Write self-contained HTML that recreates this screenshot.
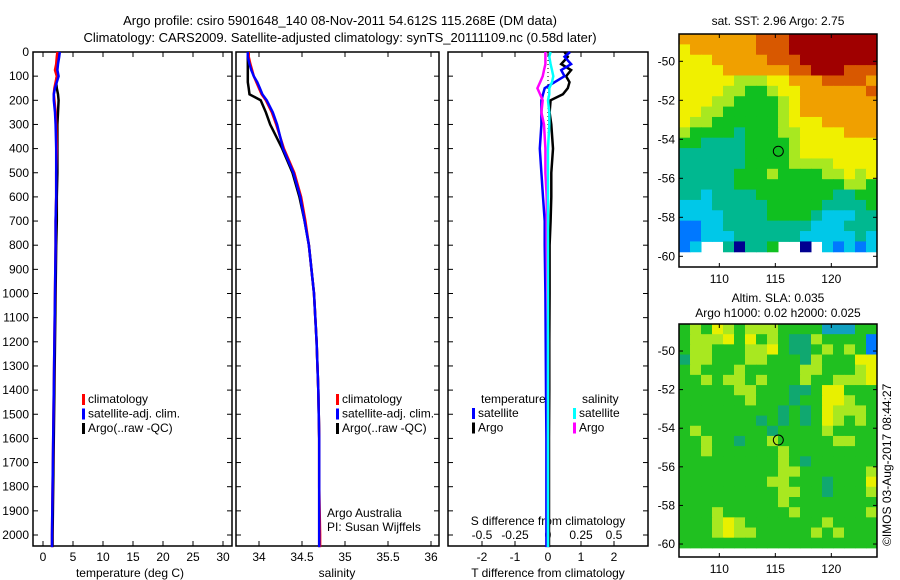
<!DOCTYPE html>
<html><head><meta charset="utf-8"><style>
body{margin:0;background:#fff}
svg{display:block;font-family:"Liberation Sans",sans-serif;font-size:12px}
</style></head><body>
<svg id="c" width="900" height="580" viewBox="0 0 900 580">
<text x="340" y="25" text-anchor="middle" font-size="13">Argo profile: csiro 5901648_140 08-Nov-2011 54.612S 115.268E (DM data)</text>
<text x="340" y="42" text-anchor="middle" font-size="13">Climatology: CARS2009. Satellite-adjusted climatology: synTS_20111109.nc (0.58d later)</text>
<text x="130" y="577" text-anchor="middle">temperature (deg C)</text>
<text x="337" y="577" text-anchor="middle">salinity</text>
<text x="548" y="577" text-anchor="middle">T difference from climatology</text>
<text x="548" y="525" text-anchor="middle">S difference from climatology</text>
<text x="327" y="517">Argo Australia</text>
<text x="327" y="531">PI: Susan Wijffels</text>
<text x="778" y="25" text-anchor="middle">sat. SST: 2.96 Argo: 2.75</text>
<text x="778" y="302" text-anchor="middle">Altim. SLA: 0.035</text>
<text x="778" y="317" text-anchor="middle">Argo h1000: 0.02 h2000: 0.025</text>
<text transform="translate(891,546) rotate(-90)">©IMOS 03-Aug-2017 08:44:27</text>
</svg>
<script>
const depths=[0,20,50,75,100,125,150,175,200,250,300,400,500,600,700,800,1000,1200,1400,1600,1800,2000,2050];
const tempClim=[2.4,2.3,2.2,2.0,2.3,2.1,1.9,1.8,1.9,2.1,2.2,2.3,2.2,2.2,2.1,2.1,2.0,1.9,1.8,1.7,1.6,1.5,1.5];
const tempSat=[2.8,2.7,2.5,2.4,2.6,2.3,2.0,1.8,1.8,2.0,2.1,2.2,2.2,2.2,2.1,2.1,2.0,1.9,1.8,1.7,1.6,1.5,1.5];
const tempArgo=[2.6,2.5,2.4,2.2,2.3,2.2,2.3,2.5,2.6,2.5,2.4,2.4,2.4,2.3,2.3,2.2,2.1,2.0,1.9,1.8,1.7,1.6,1.6];
const salClim=[33.88,33.88,33.9,33.92,33.94,33.97,34.0,34.03,34.08,34.15,34.2,34.29,34.41,34.49,34.54,34.58,34.64,34.67,34.69,34.7,34.7,34.71,34.71];
const salSat=[33.87,33.87,33.89,33.91,33.94,33.98,34.01,34.04,34.09,34.16,34.21,34.28,34.4,34.48,34.53,34.58,34.64,34.67,34.69,34.7,34.7,34.7,34.7];
const salArgo=[33.88,33.87,33.87,33.87,33.87,33.87,33.88,33.89,34.02,34.08,34.13,34.27,34.39,34.47,34.53,34.58,34.64,34.67,34.69,34.7,34.7,34.7,34.7];
const tdSat=[0.67,0.5,0.7,0.4,0.5,0.2,-0.1,-0.15,-0.2,-0.2,-0.2,-0.25,-0.2,-0.15,-0.1,-0.1,-0.08,-0.07,-0.06,-0.05,-0.05,-0.05,-0.05];
const tdArgo=[0.5,0.6,0.4,0.7,0.55,0.65,0.6,0.45,0.08,0.05,0.1,0.15,0.1,0.1,0.08,0.05,0.05,0.04,0.04,0.03,0.03,0.03,0.03];
const sdSat=[0.02,0.01,0.02,0.03,0.04,0.03,0.01,0.01,0.0,0.01,0.01,0.0,0.0,0.0,0.0,0.0,0.0,0.0,0.0,0.0,0.0,0.0,0.0];
const sdArgo=[-0.02,-0.02,-0.02,-0.03,-0.04,-0.06,-0.08,-0.06,-0.04,-0.05,-0.03,-0.02,-0.02,-0.01,-0.01,-0.01,-0.005,0,0,0,0,0,0];
const depthTicks=[0,100,200,300,400,500,600,700,800,900,1000,1100,1200,1300,1400,1500,1600,1700,1800,1900,2000];
const tempTicks=[0,5,10,15,20,25,30];
const salTicks=[34,34.5,35,35.5,36];
const tdTicks=[-2,-1,0,1,2];
const sdTicks=[-0.5,-0.25,0,0.25,0.5];
const sdTickLabels=["-0.5","-0.25","0","0.25","0.5"];
const lonTicks=[110,115,120];
const latTicks=[-50,-52,-54,-56,-58,-60];
const argoLon=115.268, argoLat=-54.612;
const sstGrid=[
"777777788899999999","677777788899999999","666777778889999999","666677777788999888",
"666665556677788887","666655445667777778","666554444567777777","665544444567777777",
"655444444566677777","544443444556666777","443333444456666666","333333444456666666",
"333333444455556666","333334445444455656","333334444444444554","332333344444443344",
"222333334444433334","222233334444322233","112233333333222333","112223333332222232",
"12..30334..0.21212",".................."];
const slaGrid=[
"454654555444422244","455564645433544441","455444556433454541","355444554443544466",
"454445444445544456","445455454445445556","444445544433466444","444444544434466544",
"444444444343465554","444444434343465454","454444443444454444","445443445444445544",
"445444444544444444","444444444543444444","444444444554444445","444444445544434446",
"444444444554434445","444444444544444444","444544444454444445","444565444444454444",
"444565544444545444","444444444444444444"];
const sstCols=["#000090","#0078ff","#00c8e8","#00b890","#10c020","#a8e820","#f0f000","#f0a000","#d85800","#a00000"];
const slaCols=["#000090","#0078ff","#10a0c0","#10a870","#20c020","#a8e820","#e8f000","#f0a000","#d85800","#a00000"];

const NS="http://www.w3.org/2000/svg", svg=document.getElementById('c');
function el(t,a,p){const e=document.createElementNS(NS,t);for(const k in a)e.setAttribute(k,a[k]);(p||svg).appendChild(e);return e;}
function txt(x,y,s,anchor,p){const e=el('text',{x:x,y:y,'text-anchor':anchor||'middle'},p);e.textContent=s;return e;}
const yD=d=>52+d*0.2415;
const Y0=52,Y1=546;
function frame(x0,x1,name){const g=el('g',{});


el('rect',{x:x0,y:Y0,width:x1-x0,height:Y1-Y0,fill:'none',stroke:'#000','stroke-width':1.5},g);return g;}
function yTicks(g,x0,x1,labels){depthTicks.forEach(d=>{const y=yD(d);el('line',{x1:x0,x2:x0+5,y1:y,y2:y,stroke:'#000'},g);el('line',{x1:x1,x2:x1-5,y1:y,y2:y,stroke:'#000'},g);if(labels){const t=txt(x0-4,y+4,String(d),'end',g);}});}
function xTicks(g,ticks,sx,labels,ly){ticks.forEach((v,i)=>{const x=sx(v);el('line',{x1:x,x2:x,y1:Y1,y2:Y1-5,stroke:'#000'},g);el('line',{x1:x,x2:x,y1:Y0,y2:Y0+5,stroke:'#000'},g);if(labels){const t=txt(x,ly,labels[i],'middle',g);}});}
function line(g,xs,sx,color,w,name){const pts=xs.map((v,i)=>sx(v).toFixed(1)+','+yD(depths[i]).toFixed(1)).join(' ');const p=el('polyline',{points:pts,fill:'none',stroke:color,'stroke-width':w},g);

}
function legend(g,x,y,items){items.forEach((it,i)=>{el('rect',{x:x,y:y+i*14.5-9,width:3,height:11,fill:it[0]},g);const t=txt(x+6,y+i*14.5,it[1],'start',g);});}
// panel 1
const sxT=v=>43+v*6;
let g1=frame(33,232,'temperature-panel');yTicks(g1,33,232,true);xTicks(g1,tempTicks,sxT,tempTicks.map(String),561);
line(g1,tempArgo,sxT,'#000',2.5,'temp-argo-line');line(g1,tempClim,sxT,'#f00',2.5,'temp-clim-line');line(g1,tempSat,sxT,'#00f',2.5,'temp-sat-line');
legend(g1,82,403,[['#f00','climatology'],['#00f','satellite-adj. clim.'],['#000','Argo(..raw -QC)']]);
// panel 2
const sxS=v=>259+(v-34)*86;
let g2=frame(236,439,'salinity-panel');yTicks(g2,236,439,false);xTicks(g2,salTicks,sxS,salTicks.map(String),561);
line(g2,salArgo,sxS,'#000',2.5,'sal-argo-line');line(g2,salClim,sxS,'#f00',2.5,'sal-clim-line');line(g2,salSat,sxS,'#00f',2.5,'sal-sat-line');
legend(g2,336,403,[['#f00','climatology'],['#00f','satellite-adj. clim.'],['#000','Argo(..raw -QC)']]);
// panel 3
const sxTD=v=>548+v*33, sxSD=v=>548+v*132;
let g3=frame(448,648,'difference-panel');yTicks(g3,448,648,false);xTicks(g3,tdTicks,sxTD,tdTicks.map(String),561);
sdTicks.forEach((v,i)=>{const t=txt(sxSD(v),539,sdTickLabels[i],'middle',g3);});
el('line',{x1:548,x2:548,y1:Y0,y2:Y1,stroke:'#000','stroke-dasharray':'1,3'},g3);
line(g3,tdArgo,sxTD,'#000',2.5,'tdiff-argo-line');line(g3,tdSat,sxTD,'#00f',2.5,'tdiff-sat-line');
line(g3,sdArgo,sxSD,'#f0f',2.5,'sdiff-argo-line');line(g3,sdSat,sxSD,'#0ff',2.5,'sdiff-sat-line');
txt(481,403,'temperature','start',g3);txt(582,403,'salinity','start',g3);
legend(g3,472,417,[['#00f','satellite'],['#000','Argo']]);
legend(g3,573,417,[['#0ff','satellite'],['#f0f','Argo']]);
// maps
function map(grid,cols,x0,x1,y0,y1,latTop,latBot,lonL,pxLon,pxLat,name){
const g=el('g',{});


const nr=grid.length,nc=grid[0].length,cw=(x1-x0)/nc,dataBot=y0+(latTop-latBot)*pxLat,ch=(dataBot-y0)/nr;
grid.forEach((row,r)=>{for(let c=0;c<nc;c++){const ch2=row[c];if(ch2==='.')continue;
const rc=el('rect',{x:(x0+c*cw).toFixed(2),y:(y0+r*ch).toFixed(2),width:(cw+0.5).toFixed(2),height:(ch+0.5).toFixed(2),fill:cols[+ch2]},g);

}});
el('rect',{x:x0,y:y0,width:x1-x0,height:y1-y0,fill:'none',stroke:'#000','stroke-width':1.5},g);
const sx=v=>x0+(v-lonL)*pxLon, sy=v=>y0+(latTop-v)*pxLat;
lonTicks.forEach(v=>{const x=sx(v);el('line',{x1:x,x2:x,y1:y1,y2:y1-4,stroke:'#000'},g);el('line',{x1:x,x2:x,y1:y0,y2:y0+4,stroke:'#000'},g);const t=txt(x,y1+16,String(v),'middle',g);});
latTicks.forEach(v=>{const y=sy(v);el('line',{x1:x0,x2:x0+4,y1:y,y2:y,stroke:'#000'},g);el('line',{x1:x1,x2:x1-4,y1:y,y2:y,stroke:'#000'},g);const t=txt(x0-4,y+4,String(v),'end',g);});
const ci=el('circle',{cx:sx(argoLon),cy:sy(argoLat),r:5,fill:'none',stroke:'#000'},g);

}
map(sstGrid,sstCols,679,877,34,267,-48.6,-60.3,106.4,11.2,19.5,'sst-map');
map(slaGrid,slaCols,679,877,324,557,-48.6,-60.2,106.4,11.2,19.3,'sla-map');
</script>
</body></html>
